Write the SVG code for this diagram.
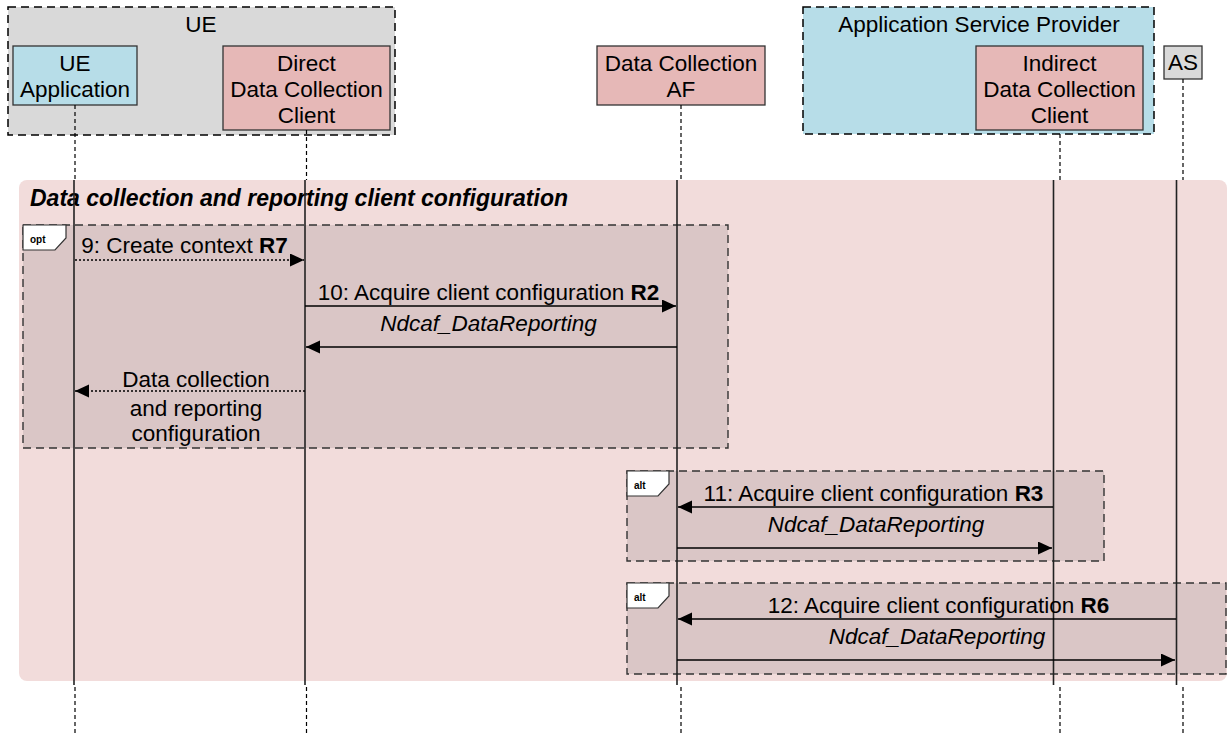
<svg xmlns="http://www.w3.org/2000/svg" width="1228" height="733" viewBox="0 0 1228 733">
<style>
text{font-family:"Liberation Sans",Arial,sans-serif;fill:#000}
.lbl{font-size:22.5px;text-anchor:middle}
.msg{font-size:22.5px;text-anchor:middle}
.it{font-style:italic}
.b{font-weight:bold}
.grp{stroke:#000;stroke-width:1.5;stroke-dasharray:8,5}
.box{stroke:#333;stroke-width:1.3}
.frame{fill:#dac6c6;stroke:#333;stroke-width:1.4;stroke-dasharray:8,5}
.tag{fill:#fff;stroke:#333;stroke-width:1.2}
.tagt{font-size:10px;font-weight:bold}
.ll-d{stroke:#000;stroke-width:1.2;stroke-dasharray:4,3;fill:none}
.ll-s{stroke:#222;stroke-width:1.6;fill:none}
.m{stroke:#000;stroke-width:1.5;fill:none;marker-end:url(#ah)}
.dot{stroke-dasharray:2,2}
</style>
<defs>
<marker id="ah" markerUnits="userSpaceOnUse" markerWidth="15" markerHeight="14" refX="14" refY="6.5" orient="auto">
<path d="M0,0 L14,6.5 L0,13 Z" fill="#000"/>
</marker>
</defs>
<rect width="1228" height="733" fill="#fff"/>

<g id="ue-group">
<rect class="grp" x="8" y="7" width="387" height="128" fill="#d9d9d9"/>
<text class="lbl" x="201" y="32">UE</text>
</g>
<g id="ue-application">
<rect class="box" x="13" y="46" width="124" height="59" fill="#b7dde8"/>
<text class="lbl" x="75" y="71">UE</text>
<text class="lbl" x="75" y="97">Application</text>
</g>
<g id="direct-dcc">
<rect class="box" x="223" y="46" width="167" height="84" fill="#e6b8b7"/>
<text class="lbl" x="306.5" y="71">Direct</text>
<text class="lbl" x="306.5" y="97">Data Collection</text>
<text class="lbl" x="306.5" y="123">Client</text>
</g>
<g id="data-collection-af">
<rect class="box" x="597" y="46" width="168" height="59" fill="#e6b8b7"/>
<text class="lbl" x="681" y="71">Data Collection</text>
<text class="lbl" x="681" y="97">AF</text>
</g>
<g id="asp-group">
<rect class="grp" x="803" y="7" width="351" height="127" fill="#b7dde8"/>
<text class="lbl" x="979" y="32">Application Service Provider</text>
</g>
<g id="indirect-dcc">
<rect class="box" x="976" y="46" width="167" height="84" fill="#e6b8b7"/>
<text class="lbl" x="1059.5" y="71">Indirect</text>
<text class="lbl" x="1059.5" y="97">Data Collection</text>
<text class="lbl" x="1059.5" y="123">Client</text>
</g>
<g id="as">
<rect class="box" x="1164" y="46" width="38" height="33" fill="#d9d9d9"/>
<text class="lbl" x="1183" y="70">AS</text>
</g>

<g id="lifelines-top">
<line class="ll-d" x1="75" y1="105" x2="75" y2="180"/>
<line class="ll-d" x1="306.5" y1="130" x2="306.5" y2="180"/>
<line class="ll-d" x1="681" y1="105" x2="681" y2="180"/>
<line class="ll-d" x1="1060" y1="134" x2="1060" y2="180"/>
<line class="ll-d" x1="1183" y1="79" x2="1183" y2="180"/>
<line class="ll-d" x1="75" y1="687" x2="75" y2="733"/>
<line class="ll-d" x1="306.5" y1="687" x2="306.5" y2="733"/>
<line class="ll-d" x1="681" y1="687" x2="681" y2="733"/>
<line class="ll-d" x1="1060" y1="687" x2="1060" y2="733"/>
<line class="ll-d" x1="1183" y1="687" x2="1183" y2="733"/>
</g>

<g id="region">
<rect x="19" y="180" width="1208" height="501" rx="8" fill="#f2dcdb"/>
<text x="30" y="206" font-size="23" font-weight="bold" font-style="italic">Data collection and reporting client configuration</text>
</g>

<g id="frame-opt">
<rect class="frame" x="23" y="225" width="705" height="223"/>
<path class="tag" d="M23,225 H66 V238 L55,250 H23 Z"/>
<text class="tagt" x="30" y="243">opt</text>
</g>
<g id="frame-alt1">
<rect class="frame" x="627" y="471" width="477" height="90"/>
<path class="tag" d="M627,471 H669 V484 L658,496 H627 Z"/>
<text class="tagt" x="634" y="489">alt</text>
</g>
<g id="frame-alt2">
<rect class="frame" x="627" y="583" width="599" height="91"/>
<path class="tag" d="M627,583 H669 V596 L658,608 H627 Z"/>
<text class="tagt" x="634" y="601">alt</text>
</g>

<g id="lifelines">
<line class="ll-s" x1="74" y1="180" x2="74" y2="685"/>
<line class="ll-s" x1="305" y1="180" x2="305" y2="685"/>
<line class="ll-s" x1="677" y1="180" x2="677" y2="685"/>
<line class="ll-s" x1="1053.5" y1="180" x2="1053.5" y2="685"/>
<line class="ll-s" x1="1176.5" y1="180" x2="1176.5" y2="685"/>
</g>

<g id="connectors">
<line class="m dot" x1="75" y1="260" x2="304" y2="260"/>
<line class="m" x1="305" y1="306" x2="676" y2="306"/>
<line class="m" x1="677" y1="347" x2="306" y2="347"/>
<line class="m dot" x1="305" y1="391" x2="75" y2="391"/>
<line class="m" x1="1053" y1="507" x2="678" y2="507"/>
<line class="m" x1="677" y1="548" x2="1052" y2="548"/>
<line class="m" x1="1176" y1="619" x2="678" y2="619"/>
<line class="m" x1="677" y1="660" x2="1175" y2="660"/>
</g>

<g id="labels">
<text class="msg" x="184.5" y="253">9: Create context <tspan class="b">R7</tspan></text>
<text class="msg" x="488.5" y="300">10: Acquire client configuration <tspan class="b">R2</tspan></text>
<text class="msg it" x="488.5" y="331">Ndcaf_DataReporting</text>
<text class="msg" x="196" y="387">Data collection</text>
<text class="msg" x="196" y="416">and reporting</text>
<text class="msg" x="196" y="441">configuration</text>
<text class="msg" x="873.5" y="501">11: Acquire client configuration <tspan class="b">R3</tspan></text>
<text class="msg it" x="876" y="532">Ndcaf_DataReporting</text>
<text class="msg" x="938.5" y="613">12: Acquire client configuration <tspan class="b">R6</tspan></text>
<text class="msg it" x="937" y="644">Ndcaf_DataReporting</text>
</g>
</svg>
